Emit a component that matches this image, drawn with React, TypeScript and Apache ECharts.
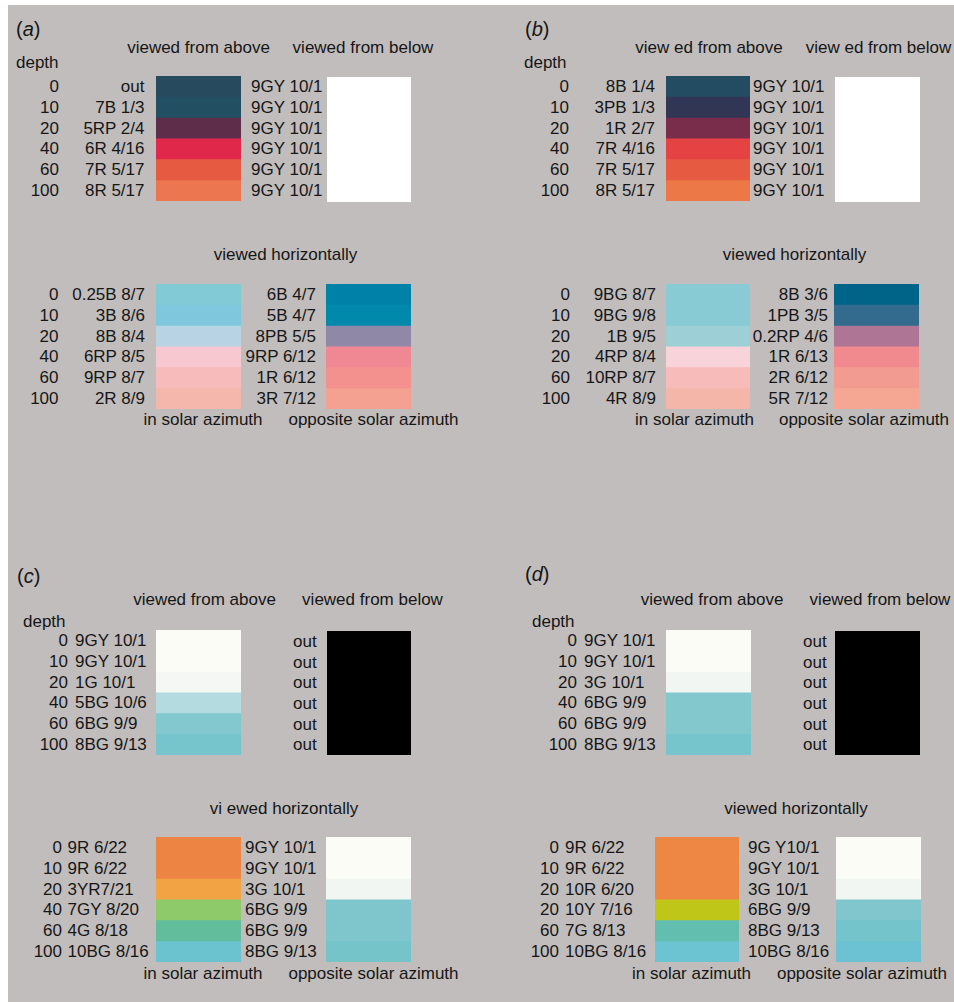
import React, { useEffect, useRef } from 'react';
import * as echarts from 'echarts';

const FONT = '"Liberation Sans", Arial, Helvetica, sans-serif';
const INK = '#161616';
const BG = '#c1bdbd';

// ---------- panel (a) ----------
const aDepths = ['0', '10', '20', '40', '60', '100'];
const aAboveCodes = ['out', '7B 1/3', '5RP 2/4', '6R 4/16', '7R 5/17', '8R 5/17'];
const aAboveColors = ['#284a5f', '#224f62', '#5e2d4a', '#e0294a', '#e65a42', '#ec7650'];
const aBelowCodes = ['9GY 10/1', '9GY 10/1', '9GY 10/1', '9GY 10/1', '9GY 10/1', '9GY 10/1'];
const aBelowColors = ['#ffffff', '#ffffff', '#ffffff', '#ffffff', '#ffffff', '#ffffff'];
const aHDepths = ['0', '10', '20', '40', '60', '100'];
const aInCodes = ['0.25B 8/7', '3B 8/6', '8B 8/4', '6RP 8/5', '9RP 8/7', '2R 8/9'];
const aInColors = ['#82cad6', '#7ec7dc', '#b7d3e4', '#f8c8d0', '#f7bbbb', '#f5b7ab'];
const aOppCodes = ['6B 4/7', '5B 4/7', '8PB 5/5', '9RP 6/12', '1R 6/12', '3R 7/12'];
const aOppColors = ['#0082a8', '#0089ab', '#8f88a6', '#f08893', '#f2918d', '#f4a191'];

// ---------- panel (b) ----------
const bDepths = ['0', '10', '20', '40', '60', '100'];
const bAboveCodes = ['8B 1/4', '3PB 1/3', '1R 2/7', '7R 4/16', '7R 5/17', '8R 5/17'];
const bAboveColors = ['#234b62', '#303654', '#7a2d4b', '#e54244', '#e65a42', '#ec7848'];
const bBelowCodes = ['9GY 10/1', '9GY 10/1', '9GY 10/1', '9GY 10/1', '9GY 10/1', '9GY 10/1'];
const bBelowColors = ['#ffffff', '#ffffff', '#ffffff', '#ffffff', '#ffffff', '#ffffff'];
const bHDepths = ['0', '10', '20', '20', '60', '100'];
const bInCodes = ['9BG 8/7', '9BG 9/8', '1B 9/5', '4RP 8/4', '10RP 8/7', '4R 8/9'];
const bInColors = ['#88cbd4', '#88cbd4', '#9cd0d6', '#f8d4da', '#f7bbba', '#f5b6aa'];
const bOppCodes = ['8B 3/6', '1PB 3/5', '0.2RP 4/6', '1R 6/13', '2R 6/12', '5R 7/12'];
const bOppColors = ['#006488', '#326b8e', '#ae7594', '#f08a8e', '#f29b90', '#f5a793'];

// ---------- panel (c) ----------
const cDepths = ['0', '10', '20', '40', '60', '100'];
const cAboveCodes = ['9GY 10/1', '9GY 10/1', '1G 10/1', '5BG 10/6', '6BG 9/9', '8BG 9/13'];
const cAboveColors = ['#fbfcf6', '#fbfcf6', '#f5f7f4', '#b4dce0', '#82c8ce', '#76c5cc'];
const cBelowCodes = ['out', 'out', 'out', 'out', 'out', 'out'];
const cBelowColors = ['#000000', '#000000', '#000000', '#000000', '#000000', '#000000'];
const cHDepths = ['0', '10', '20', '40', '60', '100'];
const cInCodes = ['9R 6/22', '9R 6/22', '3YR7/21', '7GY 8/20', '4G 8/18', '10BG 8/16'];
const cInColors = ['#ee8444', '#ee8444', '#f2a444', '#8fca6a', '#62bd9c', '#6cc3d0'];
const cOppCodes = ['9GY 10/1', '9GY 10/1', '3G 10/1', '6BG 9/9', '6BG 9/9', '8BG 9/13'];
const cOppColors = ['#fbfcf6', '#fbfcf6', '#f2f6f3', '#7fc6cc', '#7fc6cc', '#74c4ca'];

// ---------- panel (d) ----------
const dDepths = ['0', '10', '20', '40', '60', '100'];
const dAboveCodes = ['9GY 10/1', '9GY 10/1', '3G 10/1', '6BG 9/9', '6BG 9/9', '8BG 9/13'];
const dAboveColors = ['#fbfcf6', '#fbfcf6', '#f2f6f3', '#82c8cd', '#82c8cd', '#76c5cc'];
const dBelowCodes = ['out', 'out', 'out', 'out', 'out', 'out'];
const dBelowColors = ['#000000', '#000000', '#000000', '#000000', '#000000', '#000000'];
const dHDepths = ['0', '10', '20', '20', '60', '100'];
const dInCodes = ['9R 6/22', '9R 6/22', '10R 6/20', '10Y 7/16', '7G 8/13', '10BG 8/16'];
const dInColors = ['#ee8644', '#ee8644', '#ee8644', '#c0c618', '#62beaf', '#6cc3d2'];
const dOppCodes = ['9G Y10/1', '9GY 10/1', '3G 10/1', '6BG 9/9', '8BG 9/13', '10BG 8/16'];
const dOppColors = ['#fbfcf6', '#fbfcf6', '#f2f6f3', '#80c6cc', '#74c4cc', '#6cc2d2'];

const ROWS = ['r1', 'r2', 'r3', 'r4', 'r5', 'r6'];

type Box = { x: number; y: number; w: number; h: number };
type LabelCol = { side: 'left' | 'right'; anchor: number; align: 'left' | 'right'; texts: string[] };

function buildOption() {
  const grid: any[] = [];
  const xAxis: any[] = [];
  const yAxis: any[] = [];
  const series: any[] = [];
  const graphic: any[] = [];

  graphic.push({
    type: 'rect', z: -10, silent: true,
    shape: { x: 8, y: 5, width: 946, height: 997 },
    style: { fill: BG },
  });

  function swatch(box: Box, colors: string[], codes: string[], labels: LabelCol[]) {
    const gi = grid.length;
    grid.push({ left: box.x, top: box.y, width: box.w, height: box.h, containLabel: false });
    xAxis.push({ type: 'category', gridIndex: gi, data: ['swatch'], show: false });
    const yi = yAxis.length;
    yAxis.push({ type: 'category', gridIndex: gi, data: ROWS, inverse: true, show: false });
    labels.forEach((l) => {
      const margin = l.side === 'left' ? box.x - l.anchor : l.anchor - (box.x + box.w);
      yAxis.push({
        type: 'category', gridIndex: gi, data: ROWS, inverse: true, position: l.side,
        axisLine: { show: false }, axisTick: { show: false }, splitLine: { show: false },
        axisLabel: {
          show: true, interval: 0, margin, align: l.align,
          fontSize: 17, fontFamily: FONT, color: INK,
          formatter: (_v: string, i: number) => l.texts[i],
        },
      });
    });
    const last = colors.length - 1;
    series.push({
      type: 'custom', xAxisIndex: gi, yAxisIndex: yi, silent: true,
      data: colors.map((c, i) => ({ name: codes[i], value: [0, i] })),
      renderItem: (params: any, api: any) => {
        const idx = params.dataIndex;
        const p = api.coord([api.value(0), api.value(1)]);
        const sz = api.size([1, 1]);
        const w = Math.abs(sz[0]);
        const h = Math.abs(sz[1]);
        const extra = idx < last ? 0.8 : 0;
        return {
          type: 'rect',
          shape: { x: p[0] - w / 2, y: p[1] - h / 2, width: w, height: h + extra },
          style: { fill: colors[idx] },
        };
      },
    });
  }

  function text(x: number, y: number, s: string, align: 'left' | 'center' | 'right' = 'left') {
    graphic.push({
      type: 'text', x, y, silent: true,
      style: { text: s, fill: INK, fontSize: 17, fontFamily: FONT, align, verticalAlign: 'middle' },
    });
  }
  function tag(x: number, y: number, letter: string) {
    graphic.push({
      type: 'text', x, y, silent: true,
      style: {
        text: '(' + '{i|' + letter + '}' + ')', fill: INK, fontSize: 20, fontFamily: FONT,
        align: 'left', verticalAlign: 'middle',
        rich: { i: { fontStyle: 'italic', fontSize: 20, fontFamily: FONT, fill: INK } },
      },
    });
  }

  // ----- (a) -----
  tag(16, 29, 'a');
  text(198.5, 47, 'viewed from above', 'center');
  text(363, 47, 'viewed from below', 'center');
  text(16, 62, 'depth');
  swatch({ x: 156, y: 76, w: 85, h: 125 }, aAboveColors, aAboveCodes, [
    { side: 'left', anchor: 59, align: 'right', texts: aDepths },
    { side: 'left', anchor: 144.5, align: 'right', texts: aAboveCodes },
    { side: 'right', anchor: 251, align: 'left', texts: aBelowCodes },
  ]);
  swatch({ x: 327, y: 77, w: 84, h: 125 }, aBelowColors, aBelowCodes, []);
  text(285.5, 254, 'viewed horizontally', 'center');
  swatch({ x: 156, y: 284, w: 85, h: 125 }, aInColors, aInCodes, [
    { side: 'left', anchor: 58.5, align: 'right', texts: aHDepths },
    { side: 'left', anchor: 145, align: 'right', texts: aInCodes },
  ]);
  swatch({ x: 326, y: 284, w: 85, h: 125 }, aOppColors, aOppCodes, [
    { side: 'left', anchor: 316, align: 'right', texts: aOppCodes },
  ]);
  text(203, 419, 'in solar azimuth', 'center');
  text(373.5, 419, 'opposite solar azimuth', 'center');

  // ----- (b) -----
  tag(525, 29, 'b');
  text(709, 47, 'view ed from above', 'center');
  text(878.5, 47, 'view ed from below', 'center');
  text(524, 62, 'depth');
  swatch({ x: 666, y: 76, w: 84, h: 125 }, bAboveColors, bAboveCodes, [
    { side: 'left', anchor: 569, align: 'right', texts: bDepths },
    { side: 'left', anchor: 655, align: 'right', texts: bAboveCodes },
    { side: 'right', anchor: 753, align: 'left', texts: bBelowCodes },
  ]);
  swatch({ x: 835, y: 77, w: 85, h: 125 }, bBelowColors, bBelowCodes, []);
  text(794.5, 254, 'viewed horizontally', 'center');
  swatch({ x: 666, y: 284, w: 84, h: 125 }, bInColors, bInCodes, [
    { side: 'left', anchor: 570, align: 'right', texts: bHDepths },
    { side: 'left', anchor: 656, align: 'right', texts: bInCodes },
  ]);
  swatch({ x: 834, y: 284, w: 85, h: 125 }, bOppColors, bOppCodes, [
    { side: 'left', anchor: 828, align: 'right', texts: bOppCodes },
  ]);
  text(694.5, 419, 'in solar azimuth', 'center');
  text(864, 419, 'opposite solar azimuth', 'center');

  // ----- (c) -----
  tag(17, 576, 'c');
  text(204.5, 599, 'viewed from above', 'center');
  text(372.5, 599, 'viewed from below', 'center');
  text(23, 621, 'depth');
  swatch({ x: 156, y: 630, w: 85, h: 125 }, cAboveColors, cAboveCodes, [
    { side: 'left', anchor: 68, align: 'right', texts: cDepths },
    { side: 'left', anchor: 75, align: 'left', texts: cAboveCodes },
  ]);
  swatch({ x: 327, y: 631, w: 84, h: 124 }, cBelowColors, cBelowCodes, [
    { side: 'left', anchor: 293, align: 'left', texts: cBelowCodes },
  ]);
  text(284, 808, 'vi ewed horizontally', 'center');
  swatch({ x: 156, y: 837, w: 85, h: 125 }, cInColors, cInCodes, [
    { side: 'left', anchor: 62, align: 'right', texts: cHDepths },
    { side: 'left', anchor: 67.5, align: 'left', texts: cInCodes },
    { side: 'right', anchor: 245, align: 'left', texts: cOppCodes },
  ]);
  swatch({ x: 326, y: 837, w: 85, h: 125 }, cOppColors, cOppCodes, []);
  text(203, 973, 'in solar azimuth', 'center');
  text(373.5, 973, 'opposite solar azimuth', 'center');

  // ----- (d) -----
  tag(525, 574, 'd');
  text(712, 599, 'viewed from above', 'center');
  text(880, 599, 'viewed from below', 'center');
  text(532, 621, 'depth');
  swatch({ x: 666, y: 630, w: 85, h: 125 }, dAboveColors, dAboveCodes, [
    { side: 'left', anchor: 577, align: 'right', texts: dDepths },
    { side: 'left', anchor: 584, align: 'left', texts: dAboveCodes },
  ]);
  swatch({ x: 835, y: 631, w: 85, h: 124 }, dBelowColors, dBelowCodes, [
    { side: 'left', anchor: 803, align: 'left', texts: dBelowCodes },
  ]);
  text(796, 808, 'viewed horizontally', 'center');
  swatch({ x: 655, y: 837, w: 84, h: 125 }, dInColors, dInCodes, [
    { side: 'left', anchor: 559, align: 'right', texts: dHDepths },
    { side: 'left', anchor: 565, align: 'left', texts: dInCodes },
    { side: 'right', anchor: 748, align: 'left', texts: dOppCodes },
  ]);
  swatch({ x: 836, y: 837, w: 85, h: 125 }, dOppColors, dOppCodes, []);
  text(691.5, 973, 'in solar azimuth', 'center');
  text(862, 973, 'opposite solar azimuth', 'center');

  return {
    animation: false,
    backgroundColor: '#ffffff',
    grid, xAxis, yAxis, series, graphic,
  };
}

export default function App() {
  const ref = useRef<HTMLDivElement>(null);
  useEffect(() => {
    if (!ref.current) return;
    const chart = echarts.init(ref.current, undefined, { renderer: 'svg' });
    chart.setOption(buildOption() as any);
    return () => chart.dispose();
  }, []);
  return (
    <div
      ref={ref}
      style={{ position: 'absolute', left: 0, top: 0, width: 954, height: 1002 }}
    />
  );
}
